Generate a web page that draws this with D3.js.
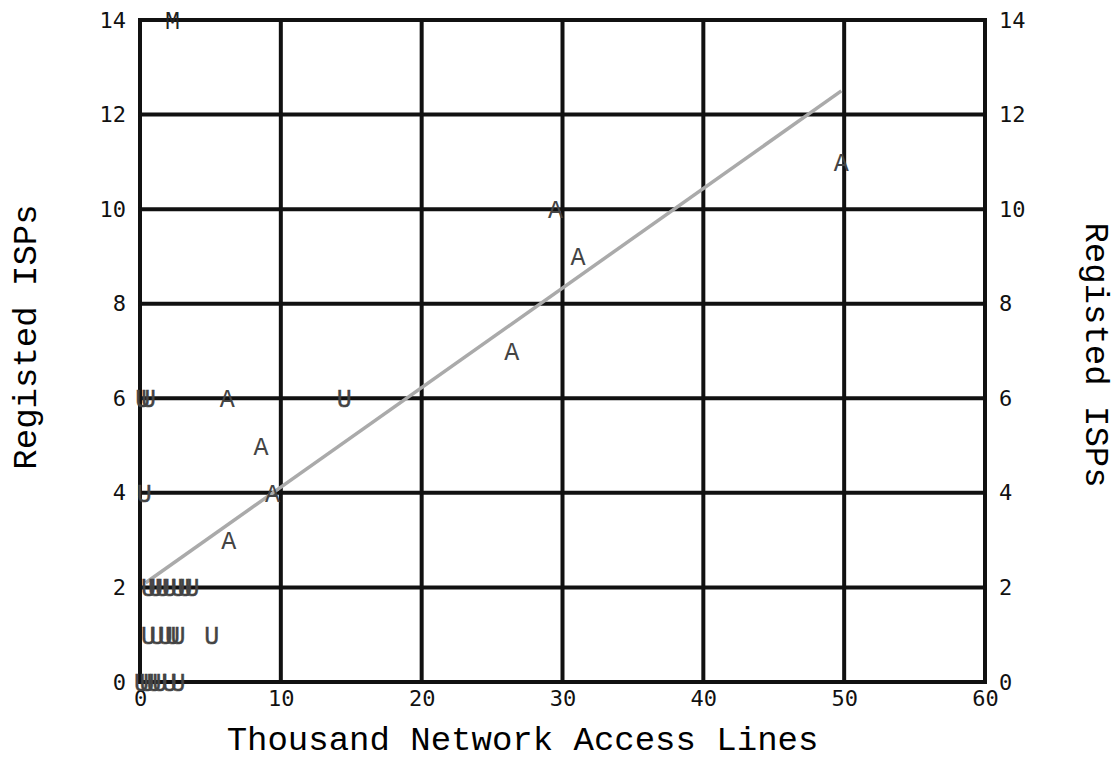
<!DOCTYPE html>
<html>
<head>
<meta charset="utf-8">
<script src="https://cdn.jsdelivr.net/npm/d3@7"></script>
<style>
  body { margin: 0; background: #fff; }
  text { font-family: "Courier New", "Nimbus Mono PS", "Liberation Mono", monospace; }
  .tick text { font-family: "DejaVu Sans Mono", monospace; font-size: 22px; }
</style>
</head>
<body>
<script>
const width = 1119,
  height = 776;

// tick values
const xTicks = [0, 10, 20, 30, 40, 50, 60];
const yTicks = [0, 2, 4, 6, 8, 10, 12, 14];

// plotted points: letter markers
const pointX = [2.3, 29.5, 31.1, 26.4, 49.8, 6.2, 14.5, 0.2, 0.6, 8.6, 9.4, 0.3, 6.3,
  0.6, 1.1, 1.6, 2.1, 2.7, 3.2, 3.7,
  0.6, 1.2, 1.8, 2.3, 2.7, 5.1,
  0.1, 0.5, 1.0, 1.4, 2.1, 2.7];
const pointY = [14, 10, 9, 7, 11, 6, 6, 6, 6, 5, 4, 4, 3,
  2, 2, 2, 2, 2, 2, 2,
  1, 1, 1, 1, 1, 1,
  0, 0, 0, 0, 0, 0];
const pointLabel = ['M', 'A', 'A', 'A', 'A', 'A', 'U', 'U', 'U', 'A', 'A', 'U', 'A',
  'U', 'U', 'U', 'U', 'U', 'U', 'U',
  'U', 'U', 'U', 'U', 'U', 'U',
  'U', 'U', 'U', 'U', 'U', 'U'];

// fitted line end points
const fitX = [0.4, 49.8];
const fitY = [2.1, 12.5];

const margin = {top: 20, right: 134, bottom: 94, left: 140};

const x = d3.scaleLinear()
  .domain([0, 60])
  .range([margin.left, width - margin.right]);

const y = d3.scaleLinear()
  .domain([0, 14])
  .range([height - margin.bottom, margin.top]);

const svg = d3.select('body').append('svg')
  .attr('width', width)
  .attr('height', height);

// grid
svg.append('g')
  .selectAll('line')
  .data(xTicks)
  .enter().append('line')
  .attr('x1', d => x(d))
  .attr('x2', d => x(d))
  .attr('y1', y(0))
  .attr('y2', y(14))
  .attr('stroke', '#111')
  .attr('stroke-width', 4);

svg.append('g')
  .selectAll('line')
  .data(yTicks)
  .enter().append('line')
  .attr('x1', x(0) - 2)
  .attr('x2', x(60) + 2)
  .attr('y1', d => y(d))
  .attr('y2', d => y(d))
  .attr('stroke', '#111')
  .attr('stroke-width', 4);

// axes (labels only)
const xAxis = svg.append('g')
  .attr('transform', `translate(0,${y(0)})`)
  .call(d3.axisBottom(x).tickValues(xTicks).tickSize(0).tickPadding(8));

const yLeft = svg.append('g')
  .attr('transform', `translate(${x(0) - 12},0)`)
  .call(d3.axisLeft(y).tickValues(yTicks).tickSize(0).tickPadding(2));

const yRight = svg.append('g')
  .attr('transform', `translate(${x(60) + 10},0)`)
  .call(d3.axisRight(y).tickValues(yTicks).tickSize(0).tickPadding(4));

[xAxis, yLeft, yRight].forEach(a => {
  a.select('.domain').remove();
  a.attr('font-size', null).attr('font-family', null);
  a.selectAll('text').attr('fill', '#111');
});

// fitted line
svg.append('path')
  .datum(d3.zip(fitX, fitY))
  .attr('fill', 'none')
  .attr('stroke', '#aaa')
  .attr('stroke-width', 3.5)
  .attr('d', d3.line().x(d => x(d[0])).y(d => y(d[1])));

// letter markers
svg.append('g')
  .selectAll('text')
  .data(d3.range(pointX.length))
  .enter().append('text')
  .attr('x', i => x(pointX[i]))
  .attr('y', i => y(pointY[i]))
  .attr('text-anchor', 'middle')
  .attr('dy', '0.36em')
  .style('font-size', '25px')
  .attr('fill', i => pointLabel[i] === 'M' ? '#222' : '#444')
  .attr('stroke', i => pointLabel[i] === 'U' ? '#444' : 'none')
  .attr('stroke-width', 0.4)
  .text(i => pointLabel[i]);

// titles
svg.append('text')
  .attr('x', (x(0) + x(60)) / 2 - 40)
  .attr('y', 750)
  .attr('text-anchor', 'middle')
  .style('font-size', '34px')
  .attr('fill', '#000')
  .text('Thousand Network Access Lines');

svg.append('text')
  .attr('transform', `translate(36,${(y(0) + y(14)) / 2 - 14}) rotate(-90)`)
  .attr('text-anchor', 'middle')
  .style('font-size', '34px')
  .attr('fill', '#000')
  .text('Registed ISPs');

svg.append('text')
  .attr('transform', `translate(1086,${(y(0) + y(14)) / 2 + 4}) rotate(90)`)
  .attr('text-anchor', 'middle')
  .style('font-size', '34px')
  .attr('fill', '#000')
  .text('Registed ISPs');
</script>
</body>
</html>
